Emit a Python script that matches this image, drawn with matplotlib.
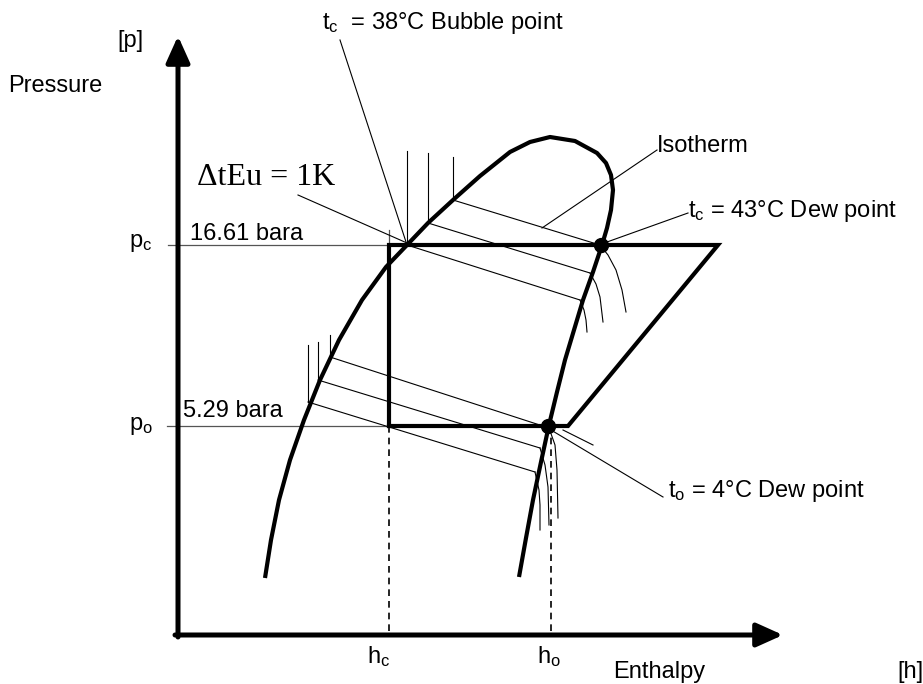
import matplotlib
matplotlib.use('Agg')
import matplotlib.pyplot as plt

plt.rcParams['font.family'] = ['Liberation Sans', 'DejaVu Sans']
plt.rcParams['mathtext.fontset'] = 'custom'
plt.rcParams['mathtext.rm'] = 'Liberation Sans'
plt.rcParams['mathtext.it'] = 'Liberation Sans:italic'

# diagram coordinates (pixels, y downwards)
origin = (178, 635)
h_tip = 783
p_tip = 36
h_c, h_o = 389, 551
p_c, p_o = 245, 426

# saturation dome (bubble line -> critical top -> dew line)
dome_h = [265, 271, 279, 290, 297, 304, 320, 339, 362, 386, 407, 428, 453, 480, 510,
          530, 550, 575, 597, 606, 611, 613, 611, 607, 602,
          593, 583, 574, 565, 557, 549, 541, 533, 526, 519]
dome_p = [578, 540, 500, 460, 440, 420, 380, 340, 300, 267, 245, 223, 200, 176, 152,
          142, 137, 141, 153, 163, 175, 190, 210, 228, 245,
          272, 300, 330, 360, 392, 425, 462, 500, 538, 577]

# refrigeration cycle
cycle_h = [h_c, h_c, 718, 568, h_c]
cycle_p = [p_o, p_c, p_c, p_o, p_o]

# isotherms in the two-phase region: (liquid top, bubble point, dew point)
iso_liq_h = [453, 428, 407, 330, 318, 308]
iso_liq_top = [157, 153, 151, 335, 342, 345]
iso_bub_p = [200, 223, 245, 357, 380, 402]
iso_dew_h = [600, 590, 580, 549, 540, 535]
iso_dew_p = [245, 273, 300, 428, 448, 472]

# superheated isotherm tails
vap_tails = [
    ([600, 608, 616, 622, 626], [245, 255, 270, 290, 312]),
    ([590, 596, 600, 603], [273, 284, 297, 322]),
    ([580, 584, 586, 587], [300, 310, 320, 332]),
    ([549, 555, 557, 558], [428, 445, 470, 518]),
    ([540, 545, 548, 549], [448, 465, 487, 525]),
    ([535, 539, 540, 540], [472, 490, 505, 530]),
]

dew_points_h = [601, 548]
dew_points_p = [p_c, p_o]

fig = plt.figure(figsize=(9.23, 6.84), dpi=100)
ax = fig.add_axes([0, 0, 1, 1])
ax.set_xlim(0, 923)
ax.set_ylim(684, 0)
ax.axis('off')

# axes with arrows
ax.annotate('', xy=(h_tip, origin[1]), xytext=(origin[0] - 3, origin[1]),
            arrowprops=dict(arrowstyle='-|>,head_length=1.0,head_width=0.45',
                            lw=3.6, color='black', mutation_scale=16,
                            shrinkA=0, shrinkB=0))
ax.annotate('', xy=(origin[0], p_tip), xytext=(origin[0], origin[1] + 2),
            arrowprops=dict(arrowstyle='-|>,head_length=1.0,head_width=0.45',
                            lw=3.6, color='black', mutation_scale=16,
                            shrinkA=0, shrinkB=0))

# pressure levels and enthalpy guides
ax.plot([168, h_c], [p_c, p_c], color='#555555', lw=0.9)
ax.plot([167, h_c], [p_o, p_o], color='#555555', lw=0.9)
ax.plot([h_c, h_c], [230, p_c], color='#555555', lw=0.9)
ax.plot([h_c, h_c], [p_o, origin[1]], color='black', lw=1.2, ls=(0, (4, 3)))
ax.plot([h_o, h_o], [p_o, origin[1]], color='black', lw=1.2, ls=(0, (4, 3)))

# isotherms
for i in range(len(iso_liq_h)):
    ax.plot([iso_liq_h[i], iso_liq_h[i]], [iso_liq_top[i], iso_bub_p[i]], color='black', lw=0.8)
    ax.plot([iso_liq_h[i], iso_dew_h[i]], [iso_bub_p[i], iso_dew_p[i]], color='black', lw=0.8)
for th, tp in vap_tails:
    ax.plot(th, tp, color='black', lw=0.8)
ax.plot([563, 593], [430, 445], color='black', lw=0.8)

# dome and cycle
ax.plot(dome_h, dome_p, color='black', lw=3.0, solid_capstyle='butt', solid_joinstyle='round')
ax.plot(cycle_h, cycle_p, color='black', lw=3.0, solid_joinstyle='miter')
ax.plot(dew_points_h, dew_points_p, 'o', color='black', ms=10, ls='none')

# leader lines
ax.plot([340, 407], [40, 245], color='black', lw=0.8)
ax.plot([298, 407], [195, 243], color='black', lw=0.8)
ax.plot([542, 657], [228, 150], color='black', lw=0.8)
ax.plot([607, 688], [242, 213], color='black', lw=0.8)
ax.plot([551, 663], [430, 497], color='black', lw=0.8)

fs = 17
ax.text(117, 41, '[p]', fontsize=fs, va='center', ha='left')
ax.text(8, 92, 'Pressure', fontsize=fs, va='baseline', ha='left')
ax.text(129, 247, r'p$_\mathrm{c}$', fontsize=fs, va='baseline', ha='left')
ax.text(129, 430, r'p$_\mathrm{o}$', fontsize=fs, va='baseline', ha='left')
ax.text(190, 240, '16.61 bara', fontsize=fs, va='baseline', ha='left')
ax.text(183, 417, '5.29 bara', fontsize=fs, va='baseline', ha='left')
ax.text(367, 663, r'h$_\mathrm{c}$', fontsize=fs, va='baseline', ha='left')
ax.text(537, 663, r'h$_\mathrm{o}$', fontsize=fs, va='baseline', ha='left')
ax.text(613, 678, 'Enthalpy', fontsize=fs, va='baseline', ha='left')
ax.text(897, 672, '[h]', fontsize=fs, va='center', ha='left')
ax.text(322, 29, r't$_\mathrm{c}$  = 38°C Bubble point', fontsize=fs, va='baseline', ha='left')
ax.text(657, 152, 'Isotherm', fontsize=fs, va='baseline', ha='left')
ax.text(688, 217, r't$_\mathrm{c}$ = 43°C Dew point', fontsize=fs, va='baseline', ha='left')
ax.text(668, 497, r't$_\mathrm{o}$ = 4°C Dew point', fontsize=fs, va='baseline', ha='left')
ax.text(197, 185, 'ΔtEu = 1K', fontsize=23, family='Liberation Serif', va='baseline', ha='left')

fig.savefig('out.png', dpi=100)
